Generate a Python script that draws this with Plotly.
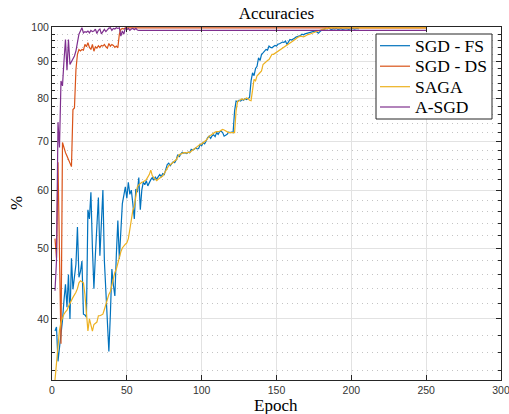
import math
import plotly.graph_objects as go

# ---------------- data ----------------
epochs_fs = list(range(2, 206))
acc_fs = [
    38.5, 39.0, 35.0, 36.5, 38.0, 39.8, 42.4, 44.6, 41.5, 46.0,
    40.0, 48.4, 43.9, 45.6, 47.5, 53.4, 45.6, 46.4, 48.0, 40.6,
    40.5, 40.2, 56.4, 54.8, 59.6, 50.0, 44.0, 49.0, 55.0, 58.6,
    48.8, 55.0, 60.0, 48.0, 43.0, 39.0, 36.1, 40.6, 46.8, 44.5,
    43.0, 49.0, 54.5, 48.3, 53.0, 57.5, 59.0, 60.6, 58.5, 61.5,
    59.2, 60.0, 57.5, 54.8, 60.2, 59.6, 62.4, 56.4, 60.0, 61.5,
    61.0, 61.8, 60.8, 61.5, 62.0, 62.4, 61.9, 62.5, 62.1, 62.6,
    63.0, 62.6, 63.2, 63.0, 64.0, 65.0, 65.3, 64.8, 65.2, 65.6,
    65.4, 66.0, 67.1, 66.6, 67.2, 67.6, 67.4, 67.5, 67.3, 67.6,
    67.5, 68.2, 68.0, 68.2, 68.5, 68.3, 68.4, 69.3, 69.0, 69.7,
    69.4, 70.0, 70.8, 71.1, 70.6, 71.2, 71.4, 71.0, 71.9, 71.5,
    72.1, 72.2, 71.9, 71.1, 71.3, 71.5, 72.0, 71.9, 72.0, 71.9,
    77.0, 79.4, 79.3, 79.6, 79.4, 79.8, 79.6, 80.0, 79.8, 80.1,
    80.3, 84.6, 86.8, 86.0, 88.0, 88.6, 91.0, 90.2, 92.0, 92.4,
    92.8, 93.4, 93.2, 94.4, 94.0, 93.9, 94.3, 94.6, 94.4, 95.0,
    95.1, 95.3, 95.6, 95.5, 95.9, 94.9, 95.8, 96.4, 96.2, 96.4,
    96.8, 97.1, 97.2, 97.4, 97.6, 98.0, 97.8, 98.1, 98.2, 98.5,
    98.4, 98.6, 98.8, 98.9, 99.0, 98.7, 98.3, 98.8, 99.3, 99.5,
    99.6, 99.8, 99.7, 100.0, 99.6, 99.5, 99.7, 99.6, 99.8, 99.5,
    99.6, 99.7, 99.5, 99.6, 99.8, 99.7, 99.5, 99.6, 99.7, 99.8,
    99.6, 99.7, 99.8, 99.6,
]

epochs_ds = list(range(2, 50)) + [250]
acc_ds = [
    51.5, 48.5, 65.5, 50.0, 37.0, 69.7, 68.5, 67.5, 66.8, 66.0,
    65.3, 64.6, 77.3, 77.7, 87.7, 92.0, 93.4, 93.0, 93.4, 93.2,
    94.9, 94.2, 95.4, 94.0, 93.4, 94.9, 92.9, 94.2, 93.8, 94.5,
    94.0, 94.6, 94.4, 94.9, 94.2, 93.8, 95.2, 94.4, 94.9, 94.6,
    94.0, 94.4, 93.9, 98.0, 99.5, 99.8, 99.6, 100.0,
    100.0,
]

epochs_saga = list(range(2, 187)) + [250]
acc_saga = [
    33.0, 35.0, 37.4, 38.6, 39.6, 40.2, 40.6, 40.9, 41.1, 41.6,
    42.1, 42.4, 42.8, 43.1, 43.5, 44.0, 44.8, 45.1, 45.0, 44.8,
    43.2, 40.5, 38.5, 40.0, 39.2, 38.5, 39.3, 39.5, 39.6, 40.4,
    40.4, 40.5, 40.6, 41.2, 41.9, 42.6, 43.2, 43.6, 44.5, 45.1,
    46.3, 46.8, 47.8, 48.5, 49.4, 50.0, 50.4, 50.6, 50.8, 51.5,
    53.0, 55.0, 56.3, 57.0, 59.0, 60.6, 61.0, 61.3, 61.5, 61.6,
    61.8, 62.0, 62.5, 63.0, 63.9, 62.8, 62.4, 62.0, 61.8, 62.1,
    62.4, 62.5, 62.7, 63.2, 63.7, 64.2, 64.8, 65.0, 65.2, 65.5,
    65.8, 66.0, 66.6, 67.1, 67.2, 67.4, 67.5, 67.5, 67.4, 67.6,
    67.5, 67.8, 68.0, 68.3, 68.5, 68.8, 69.1, 69.3, 69.4, 69.6,
    69.9, 70.2, 70.6, 71.1, 71.3, 71.6, 71.8, 72.0, 72.1, 72.1,
    72.2, 72.4, 72.6, 72.5, 72.3, 72.0, 71.9, 71.9, 71.9, 71.9,
    71.9, 77.0, 79.3, 79.5, 79.8, 80.0, 79.7, 80.0, 80.2, 80.0,
    79.6, 79.5, 82.0, 85.0, 84.6, 86.0, 86.4, 86.8, 87.3, 89.1,
    89.5, 90.0, 90.2, 90.5, 91.2, 92.0, 92.0, 92.3, 92.8, 93.1,
    93.4, 93.6, 93.9, 94.1, 94.4, 94.8, 95.1, 95.4, 95.6, 95.9,
    96.4, 96.6, 97.0, 97.2, 97.4, 97.3, 97.2, 97.4, 97.7, 97.9,
    98.0, 98.2, 98.4, 98.6, 98.8, 99.0, 99.1, 99.2, 99.4, 99.5,
    99.6, 99.8, 99.9, 100.0, 100.0,
    100.0,
]

epochs_asgd = list(range(2, 59)) + [250]
acc_asgd = [
    43.7, 48.0, 74.3, 68.6, 84.6, 83.3, 90.0, 96.4, 87.5, 96.4,
    89.1, 90.0, 90.8, 91.5, 93.0, 95.0, 98.0, 99.0, 100.0, 98.4,
    98.8, 98.6, 99.0, 98.4, 99.2, 98.8, 99.0, 99.6, 98.2, 99.2,
    99.6, 98.1, 99.0, 99.5, 98.8, 99.5, 99.9, 100.0, 99.2, 99.8,
    99.6, 100.0, 99.8, 100.0, 97.4, 99.0, 98.0, 100.0, 99.4, 99.8,
    99.2, 99.6, 99.8, 99.4, 99.8, 99.3, 99.2,
    99.2,
]

series_names = ["SGD - FS", "SGD - DS", "SAGA", "A-SGD"]
series_colors = ["#0072BD", "#D95319", "#EDB120", "#7E2F8E"]

x_ticks = [0, 50, 100, 150, 200, 250, 300]
y_ticks = [40, 50, 60, 70, 80, 90, 100]
y_minor = [34, 36, 38, 42, 44, 46, 48, 52, 54, 56, 58, 62, 64, 66, 68,
           72, 74, 76, 78, 82, 84, 86, 88, 92, 94, 96, 98]

# ---------------- figure ----------------
serif = "Liberation Serif"
sans = "Liberation Sans"
axis_col = "#262626"
W, H = 509, 414
ML, MR, MT, MB = 52, 8, 27, 34
PW, PH = W - ML - MR, H - MT - MB


def px_x(px):
    return (px - ML) / PW


def px_y(py):
    return (H - MB - py) / PH


fig = go.Figure()
for name, xs, ys, col in zip(series_names,
                             [epochs_fs, epochs_ds, epochs_saga, epochs_asgd],
                             [acc_fs, acc_ds, acc_saga, acc_asgd],
                             series_colors):
    fig.add_trace(go.Scatter(x=xs, y=ys, mode="lines", name=name,
                             line=dict(color=col, width=1.2),
                             showlegend=False))

# legend box (drawn as shapes + text, to match the reference spacing)
shapes = [dict(type="rect", xref="paper", yref="paper", layer="above",
               x0=px_x(376), x1=px_x(492), y0=px_y(119), y1=px_y(34),
               fillcolor="white", line=dict(color=axis_col, width=1))]
annotations = []
row_y = [45.7, 66.2, 86.7, 107.0]
for name, col, ry in zip(series_names, series_colors, row_y):
    shapes.append(dict(type="line", xref="paper", yref="paper", layer="above",
                       x0=px_x(380), x1=px_x(410), y0=px_y(ry), y1=px_y(ry),
                       line=dict(color=col, width=1.2)))
    annotations.append(dict(text=name, xref="paper", yref="paper",
                            x=px_x(413), y=px_y(ry), xanchor="left",
                            yanchor="middle", showarrow=False,
                            font=dict(family=serif, size=17.5, color="black")))

annotations += [
    dict(text="Epoch", xref="paper", yref="paper",
         x=px_x(276), y=px_y(405), xanchor="center", yanchor="middle",
         showarrow=False, font=dict(family=serif, size=17, color="black")),
    dict(text="%", xref="paper", yref="paper",
         x=px_x(16), y=px_y(203), textangle=-90,
         xanchor="center", yanchor="middle", showarrow=False,
         font=dict(family=serif, size=17, color="black")),
]

fig.update_layout(
    width=W, height=H,
    margin=dict(l=ML, r=MR, t=MT, b=MB, autoexpand=False),
    paper_bgcolor="white", plot_bgcolor="white",
    title=dict(text="Accuracies", x=0.5, xref="paper", xanchor="center",
               y=1 - 13 / H, yref="container", yanchor="middle",
               font=dict(family=serif, size=17, color="black")),
    showlegend=False,
    shapes=shapes,
    annotations=annotations,
)

fig.update_xaxes(
    range=[0, 300], tickmode="array", tickvals=x_ticks,
    ticktext=[str(v) for v in x_ticks], automargin=False,
    ticklabeloverflow="allow",
    ticks="inside", ticklen=5, tickcolor=axis_col, tickwidth=1,
    showline=True, linecolor=axis_col, linewidth=1, mirror="ticks",
    showgrid=True, gridcolor="#e2e2e2", gridwidth=1, zeroline=False,
    tickfont=dict(family=sans, size=10.5, color="#333333"),
)

fig.update_yaxes(
    type="log", range=[math.log10(33), math.log10(100.25)],
    tickmode="array", tickvals=y_ticks, ticktext=[str(v) for v in y_ticks],
    automargin=False, ticklabeloverflow="allow",
    ticks="inside", ticklen=5, tickcolor=axis_col, tickwidth=1,
    showline=True, linecolor=axis_col, linewidth=1, mirror="ticks",
    showgrid=True, gridcolor="#e2e2e2", gridwidth=1, zeroline=False,
    tickfont=dict(family=sans, size=10.5, color="#333333"),
    minor=dict(tickmode="array", tickvals=y_minor, ticks="inside", ticklen=3,
               tickcolor=axis_col, showgrid=True, gridcolor="#c4c4c4",
               griddash="1px,4px", gridwidth=1),
)

fig.write_html("out.html",
               config={"displayModeBar": False},
               post_script="document.body.style.margin='0';")
